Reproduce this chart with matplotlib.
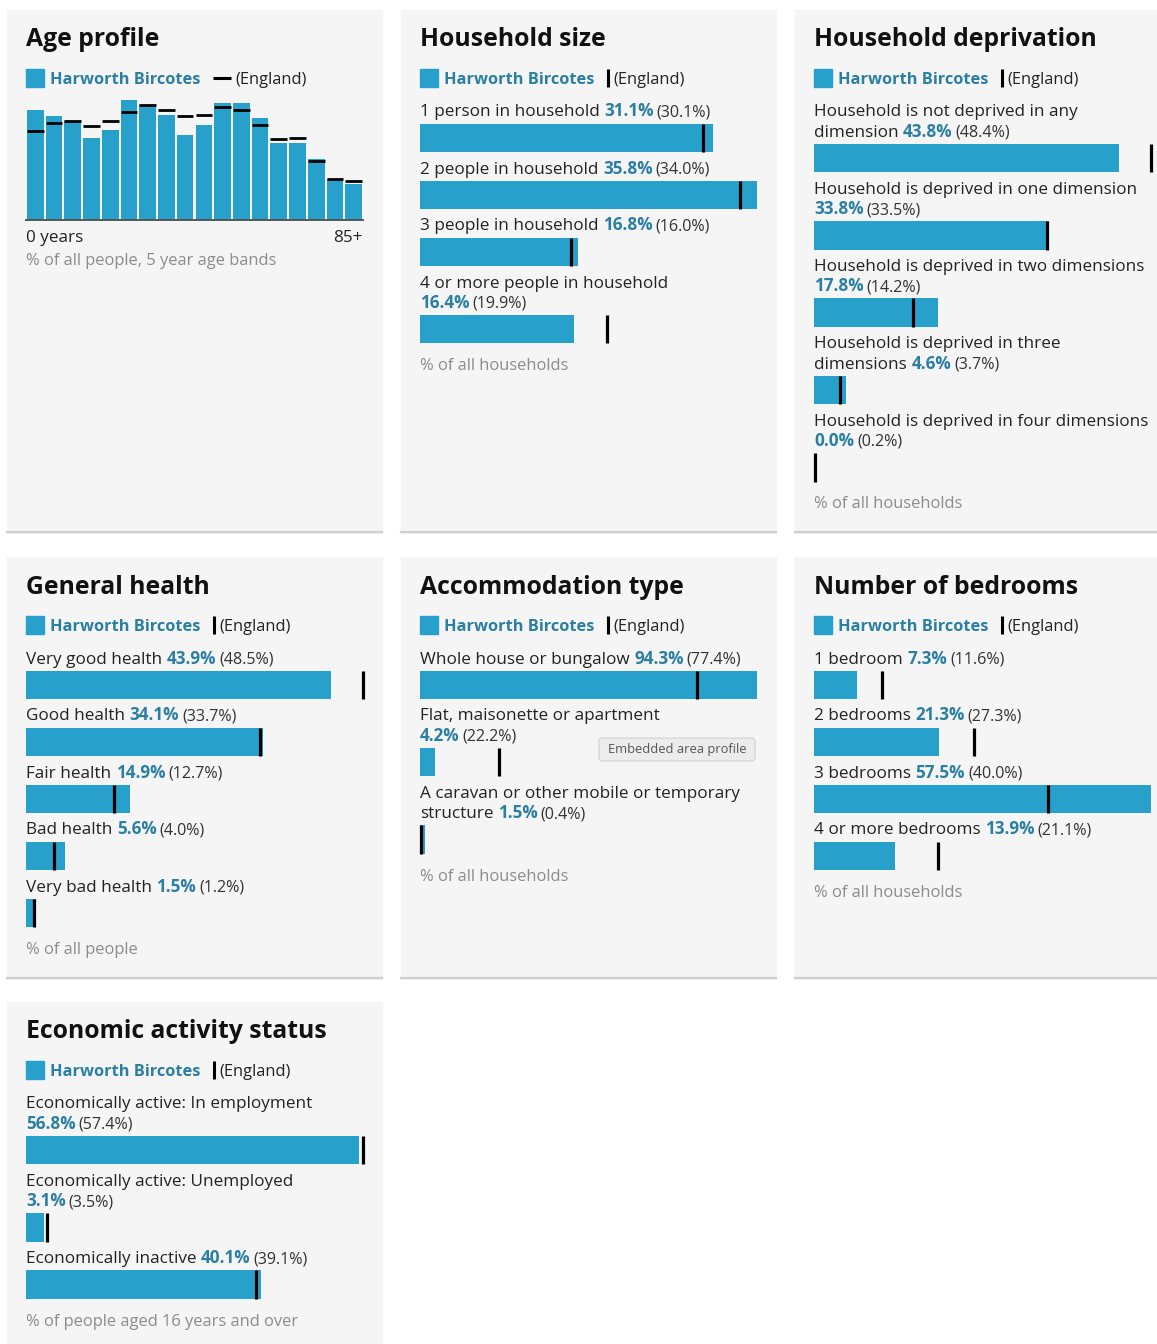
import matplotlib.pyplot as plt
from matplotlib.patches import Rectangle, FancyBboxPatch

plt.rcParams['font.family'] = ['Open Sans', 'DejaVu Sans']

# ----------------------------
# DATA
# ----------------------------
AREA = "Harworth Bircotes"

AGE_LOCAL = [6.7, 6.3, 6.0, 5.0, 5.5, 7.3, 7.0, 6.4, 5.2, 5.8, 7.1, 7.1, 6.2, 4.7, 4.7, 3.7, 2.5, 2.2]
AGE_ENGLAND = [5.4, 5.9, 6.0, 5.7, 6.0, 6.6, 7.0, 6.7, 6.3, 6.4, 6.9, 6.7, 5.8, 4.9, 5.0, 3.6, 2.5, 2.4]

HH_SIZE_LABELS = ["1 person in household", "2 people in household",
                  "3 people in household", "4 or more people in household\n"]
HH_SIZE_LOCAL = [31.1, 35.8, 16.8, 16.4]
HH_SIZE_ENGLAND = [30.1, 34.0, 16.0, 19.9]

DEPRIV_LABELS = ["Household is not deprived in any\ndimension",
                 "Household is deprived in one dimension\n",
                 "Household is deprived in two dimensions\n",
                 "Household is deprived in three\ndimensions",
                 "Household is deprived in four dimensions\n"]
DEPRIV_LOCAL = [43.8, 33.8, 17.8, 4.6, 0.0]
DEPRIV_ENGLAND = [48.4, 33.5, 14.2, 3.7, 0.2]

HEALTH_LABELS = ["Very good health", "Good health", "Fair health", "Bad health", "Very bad health"]
HEALTH_LOCAL = [43.9, 34.1, 14.9, 5.6, 1.5]
HEALTH_ENGLAND = [48.5, 33.7, 12.7, 4.0, 1.2]

ACCOM_LABELS = ["Whole house or bungalow", "Flat, maisonette or apartment\n",
                "A caravan or other mobile or temporary\nstructure"]
ACCOM_LOCAL = [94.3, 4.2, 1.5]
ACCOM_ENGLAND = [77.4, 22.2, 0.4]

BEDROOM_LABELS = ["1 bedroom", "2 bedrooms", "3 bedrooms", "4 or more bedrooms"]
BEDROOM_LOCAL = [7.3, 21.3, 57.5, 13.9]
BEDROOM_ENGLAND = [11.6, 27.3, 40.0, 21.1]

ECON_LABELS = ["Economically active: In employment\n", "Economically active: Unemployed\n",
               "Economically inactive"]
ECON_LOCAL = [56.8, 3.1, 40.1]
ECON_ENGLAND = [57.4, 3.5, 39.1]

# ----------------------------
# STYLE / LAYOUT
# ----------------------------
W, H = 1157, 1344
BAR_BLUE = "#27a0cc"
VALUE_TEAL = "#2a7fa2"
TEXT = "#222222"
GREY = "#8c8c8c"
PANEL_BG = "#f5f5f6"

PANEL_X = [7, 401, 795]
PANEL_W = 375
ROWS = [(10, 533), (557, 979), (1002, 1360)]
PAD = 19
CONTENT_W = 337

LINE = 20.3
BODY = 12.3
SMALL = 11.6
NOTE = 11.9
LEGEND = 11.8
TITLE = 17.8

fig = plt.figure(figsize=(W / 100, H / 100), dpi=100)
fig.patch.set_facecolor("white")
bg = fig.add_axes([0, 0, 1, 1], zorder=0)
bg.set_xlim(0, W)
bg.set_ylim(H, 0)
bg.axis("off")

renderer = fig.canvas.get_renderer()


def put(x, y, s, size=BODY, color=TEXT, weight="normal"):
    # text with its baseline at pixel y; returns right edge in pixels
    t = bg.text(x, y, s, fontsize=size, color=color, fontweight=weight,
                ha="left", va="baseline")
    return x + t.get_window_extent(renderer).width


def bar_axes(px, top, bottom, vmax):
    ax = fig.add_axes([(px + PAD) / W, 1 - bottom / H, CONTENT_W / W, (bottom - top) / H], zorder=1)
    ax.set_xlim(0, vmax)
    ax.set_ylim(bottom, top)
    ax.axis("off")
    return ax


def panel(col, row, title, hline_legend=False):
    px = PANEL_X[col]
    top, bottom = ROWS[row]
    bg.add_patch(Rectangle((px, top), PANEL_W, bottom - top, color=PANEL_BG, zorder=0))
    if bottom < H:
        bg.plot([px, px + PANEL_W], [bottom - 1, bottom - 1], color="#cfcfd1", lw=1.6, zorder=1)
    x0 = px + PAD
    put(x0, top + 36.5, title, size=TITLE, weight="bold", color="#111111")
    # legend
    ly = top + 68
    bg.add_patch(Rectangle((x0, ly - 9), 18, 18, color=BAR_BLUE, zorder=2))
    xe = put(x0 + 24, ly + 6, AREA, size=LEGEND, weight="bold", color=VALUE_TEAL)
    if hline_legend:
        bg.plot([xe + 13, xe + 31], [ly, ly], color="black", lw=2.2, solid_capstyle="butt")
        put(xe + 35, ly + 6, "(England)", size=LEGEND)
    else:
        bg.plot([xe + 14, xe + 14], [ly - 9, ly + 9], color="black", lw=2.2, solid_capstyle="butt")
        put(xe + 19, ly + 6, "(England)", size=LEGEND)
    return px, top, bottom


def bar_panel(col, row, title, labels, local, england, note):
    px, top, bottom = panel(col, row, title)
    x0 = px + PAD
    ax = bar_axes(px, top, bottom, max(max(local), max(england)))
    y = top + 101
    for lab, v, e in zip(labels, local, england):
        lines = lab.split("\n")
        for ln in lines[:-1]:
            put(x0, y + 5.5, ln)
            y += LINE
        x = x0
        if lines[-1]:
            x = put(x0, y + 5.5, lines[-1]) + 4.5
        x = put(x, y + 5.5, f"{v:.1f}%", weight="bold", color=VALUE_TEAL) + 3
        put(x, y + 5.5, f"({e:.1f}%)", size=SMALL, color="#333333")
        btop = y + 12.5
        bbot = btop + 28.5
        ax.barh((btop + bbot) / 2, v, height=bbot - btop, left=0, color=BAR_BLUE)
        ax.vlines(e, btop, bbot, color="black", lw=2.3, clip_on=False)
        y = bbot + 16
    put(x0, y + 5.5 + 5.5, note, size=NOTE, color=GREY)


# ----------------------------
# AGE PROFILE
# ----------------------------
px, top, bottom = panel(0, 0, "Age profile", hline_legend=True)
x0 = px + PAD
ax = fig.add_axes([x0 / W, 1 - (top + 210) / H, CONTENT_W / W, 120 / H], zorder=1)
idx = range(len(AGE_LOCAL))
ax.bar(idx, AGE_LOCAL, width=0.89, color=BAR_BLUE)
ax.hlines(AGE_ENGLAND, [i - 0.445 for i in idx], [i + 0.445 for i in idx], color="black", lw=2.0,
          clip_on=False)
ax.set_xlim(-0.5, len(AGE_LOCAL) - 0.5)
ax.set_ylim(0, max(max(AGE_LOCAL), max(AGE_ENGLAND)))
ax.axis("off")
ax.axhline(0, color="#555555", lw=1.4, clip_on=False)
put(x0, top + 231.5, "0 years")
bg.text(x0 + CONTENT_W, top + 231.5, "85+", fontsize=BODY, color=TEXT, ha="right", va="baseline")
put(x0, top + 255, "% of all people, 5 year age bands", size=NOTE, color=GREY)

# ----------------------------
# BAR PANELS
# ----------------------------
bar_panel(1, 0, "Household size", HH_SIZE_LABELS, HH_SIZE_LOCAL, HH_SIZE_ENGLAND, "% of all households")
bar_panel(2, 0, "Household deprivation", DEPRIV_LABELS, DEPRIV_LOCAL, DEPRIV_ENGLAND, "% of all households")
bar_panel(0, 1, "General health", HEALTH_LABELS, HEALTH_LOCAL, HEALTH_ENGLAND, "% of all people")
bar_panel(1, 1, "Accommodation type", ACCOM_LABELS, ACCOM_LOCAL, ACCOM_ENGLAND, "% of all households")
bar_panel(2, 1, "Number of bedrooms", BEDROOM_LABELS, BEDROOM_LOCAL, BEDROOM_ENGLAND, "% of all households")
bar_panel(0, 2, "Economic activity status", ECON_LABELS, ECON_LOCAL, ECON_ENGLAND,
          "% of people aged 16 years and over")

# tooltip left in the screenshot
bg.add_patch(FancyBboxPatch((599, 738), 156, 23, boxstyle="round,pad=0,rounding_size=3",
                            facecolor="#ececec", edgecolor="#d2d2d2", lw=0.8, zorder=3))
bg.text(677, 749.5, "Embedded area profile", fontsize=9.3, color="#555555", ha="center", va="center", zorder=4)

fig.savefig("out.png", dpi=100)
